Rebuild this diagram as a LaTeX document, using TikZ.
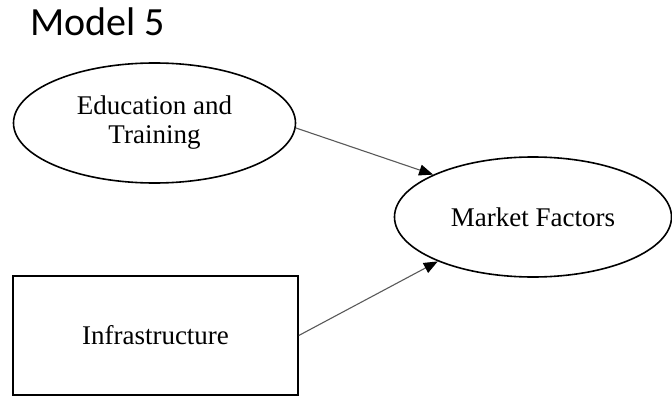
\documentclass[tikz,border=0pt]{standalone}
\usepackage{fontspec}
\setmainfont{Liberation Serif}
\newfontfamily\titlefont{Carlito}
\usetikzlibrary{arrows.meta, shapes, positioning, calc}

\begin{document}
\begin{tikzpicture}
	[
	x = 1pt, y = -1pt,
	var/.style = {ellipse, draw, line width = 1.6pt, inner sep = 0pt,
		minimum width = 282pt, minimum height = 120pt, align = center,
		font = \fontsize{27}{29}\selectfont},
	box/.style = {rectangle, draw, line width = 1.6pt, inner sep = 0pt,
		minimum width = 285pt, minimum height = 119pt,
		font = \fontsize{27}{29}\selectfont},
	tip/.style = {
		-{Triangle[width=11pt,length=14pt,color=black]},
		draw = black!65, line width = 1.1pt
	}
	]
	\useasboundingbox (0, 0) rectangle (672, 396);
	
	\node[anchor = base west, inner sep = 0pt, font = \titlefont\fontsize{40}{44}\selectfont] (title) at (30, 36) {Model 5};
	\node[var] (edu) at (154.5, 123) {Education and\\ Training};
	\node[var, minimum width = 277pt] (mkt) at (533, 217) {Market Factors};
	\node[box] (infra) at (155.5, 335.5) {Infrastructure};
	
	\draw[tip] (edu.-2) -- (mkt.157);
	\draw[tip] (infra.east) -- (mkt.205);
\end{tikzpicture}
\end{document}
